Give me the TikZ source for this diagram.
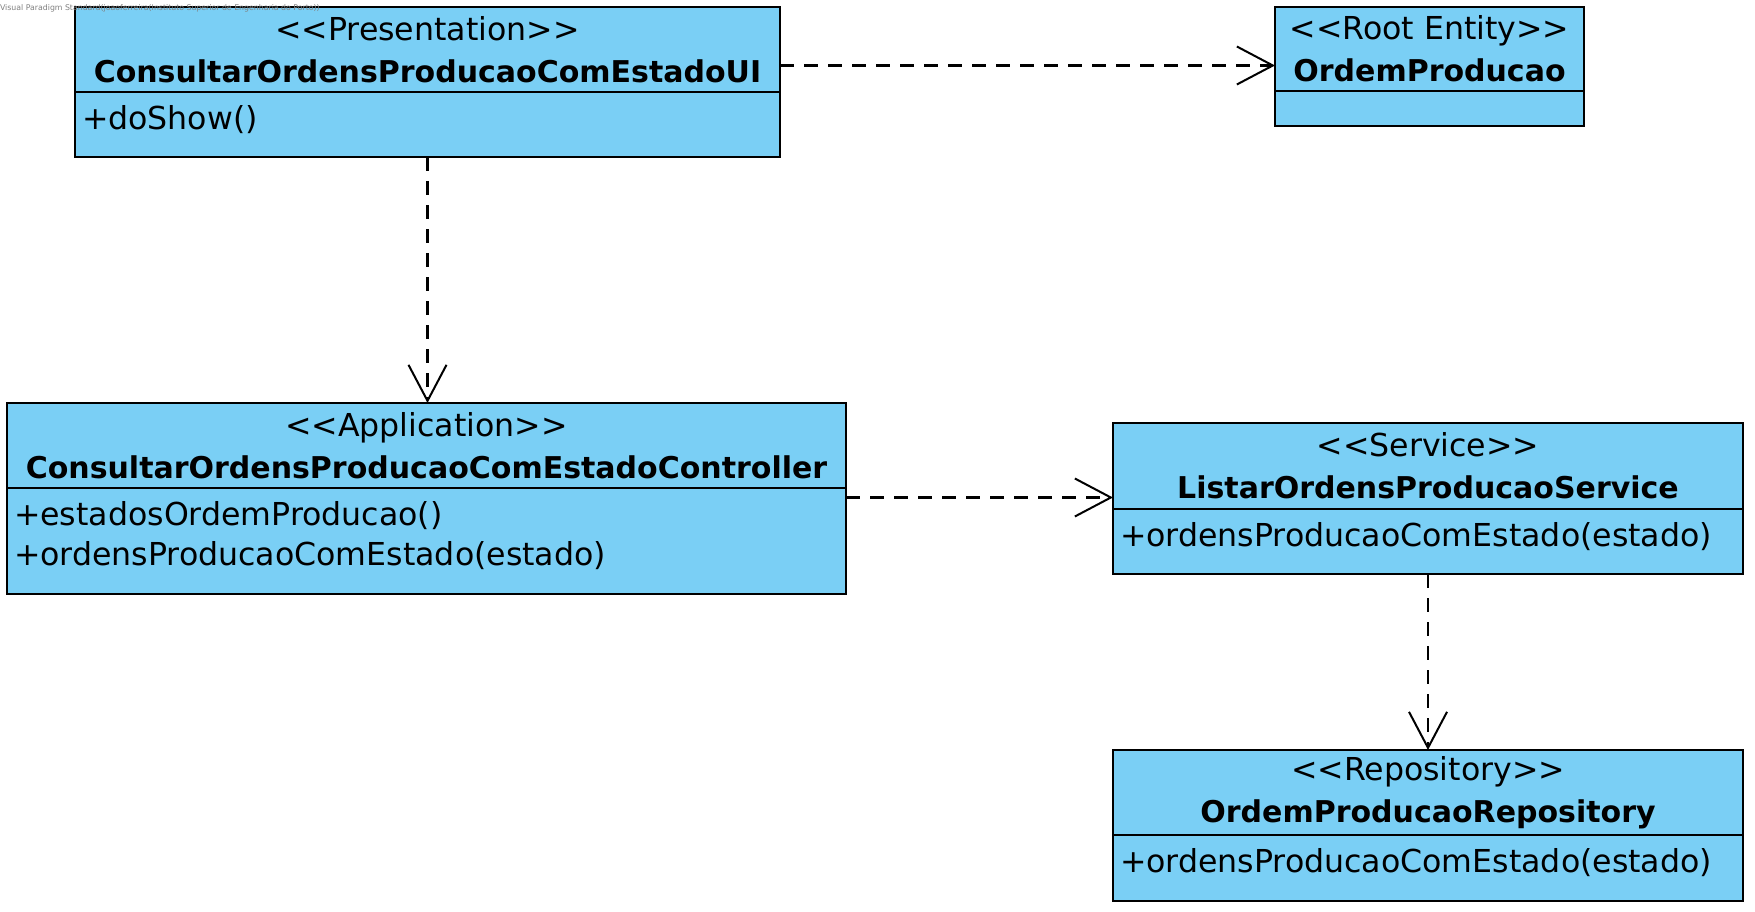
\documentclass[tikz,border=0pt]{standalone}
\usepackage{fontspec}
\setmainfont{DejaVu Sans}[Ligatures=TeXOff]
\usetikzlibrary{arrows.meta,positioning}
\definecolor{classblue}{RGB}{122,207,245}
\newcommand{\clsname}[1]{{\fontsize{30}{42}\selectfont\bfseries #1}}

\begin{document}
\begin{tikzpicture}[x=1pt,y=-1pt,every node/.style={font=\fontsize{31.6}{42}\selectfont,inner sep=0pt,outer sep=0pt},
  cls/.style={draw,line width=2.8pt,fill=classblue,align=center},
  ops/.style={draw,line width=2.8pt,fill=classblue},
  opstext/.style={anchor=north west,align=left,xshift=7pt,yshift=-13pt,font=\fontsize{31.6}{40}\selectfont},
  dep/.style={line width=2.2pt,dash pattern=on 14pt off 10pt,-{Straight Barb[length=36pt,width=38pt,line width=2pt]}}]
\useasboundingbox (0,0) rectangle (1755,912);
\node[cls,minimum width=705pt,minimum height=85pt] (ui) at (427.5,49.5) {<<Presentation>>\\\clsname{ConsultarOrdensProducaoComEstadoUI}};
\node[ops,minimum width=705pt,minimum height=65pt,below=0pt of ui,label={[opstext]north west:+doShow()}] (uiops) {};
\node[cls,minimum width=309pt,minimum height=84pt] (root) at (1429.5,49) {<<Root Entity>>\\\clsname{OrdemProducao}};
\node[ops,minimum width=309pt,minimum height=35pt,below=0pt of root] (rootops) {};
\node[cls,minimum width=839pt,minimum height=85pt] (ctrl) at (426.5,445.5) {<<Application>>\\\clsname{ConsultarOrdensProducaoComEstadoController}};
\node[ops,minimum width=839pt,minimum height=106pt,below=0pt of ctrl,label={[opstext]north west:+estadosOrdemProducao()\\+ordensProducaoComEstado(estado)}] (ctrlops) {};
\node[cls,minimum width=630pt,minimum height=86pt] (svc) at (1428,466) {<<Service>>\\\clsname{ListarOrdensProducaoService}};
\node[ops,minimum width=630pt,minimum height=65pt,below=0pt of svc,label={[opstext]north west:+ordensProducaoComEstado(estado)}] (svcops) {};
\node[cls,minimum width=630pt,minimum height=85pt] (repo) at (1428,792.5) {<<Repository>>\\\clsname{OrdemProducaoRepository}};
\node[ops,minimum width=630pt,minimum height=66pt,below=0pt of repo,label={[opstext]north west:+ordensProducaoComEstado(estado)}] (repoops) {};
\draw[dep] ([yshift=-16pt]ui.east) -- ([yshift=-16pt]ui.east -| root.west);
\draw[dep] (uiops.south) -- (uiops.south |- ctrl.north);
\draw[dep] ([yshift=-52pt]ctrl.east) -- ([yshift=-52pt]ctrl.east -| svc.west);
\draw[dep] (svcops.south) -- (repo.north);
\node[font=\fontsize{7.8}{9}\selectfont,text=gray,anchor=west] (vp) at (0,8) {Visual Paradigm Standard(joaoferreira(Instituto Superior de Engenharia do Porto))};
\end{tikzpicture}
\end{document}
